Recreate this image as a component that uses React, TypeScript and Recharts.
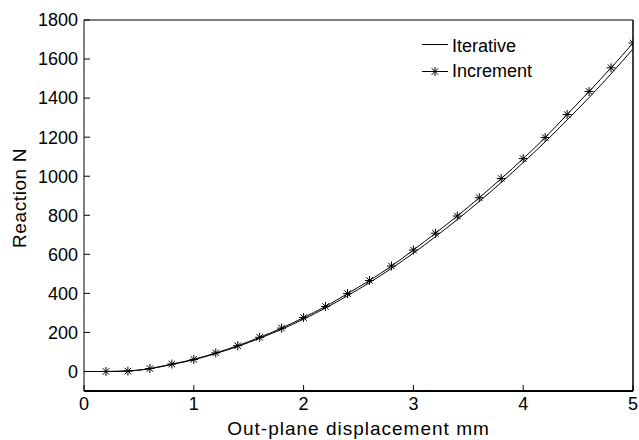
import React from "react";
import { Line, LineChart, XAxis, YAxis } from "recharts";

const FONT = "'Liberation Sans', Arial, Helvetica, sans-serif";

const X_TICKS = [0, 1, 2, 3, 4, 5];
const Y_TICKS = [0, 200, 400, 600, 800, 1000, 1200, 1400, 1600, 1800];

const ITERATIVE_X = [0, 0.2, 0.4, 0.6, 0.8, 1.0, 1.2, 1.4, 1.6, 1.8, 2.0, 2.2, 2.4, 2.6, 2.8, 3.0, 3.2, 3.4, 3.6, 3.8, 4.0, 4.2, 4.4, 4.6, 4.8, 5.0];
const ITERATIVE_N = [0, 0, 3, 14, 36, 60, 92, 128, 170, 216, 268, 325, 388, 455, 528, 606, 690, 778, 871, 968, 1070, 1176, 1288, 1403, 1524, 1652];

const INCREMENT_X = [0.2, 0.4, 0.6, 0.8, 1.0, 1.2, 1.4, 1.6, 1.8, 2.0, 2.2, 2.4, 2.6, 2.8, 3.0, 3.2, 3.4, 3.6, 3.8, 4.0, 4.2, 4.4, 4.6, 4.8, 5.0];
const INCREMENT_N = [0, 2, 15, 38, 62, 95, 132, 175, 222, 276, 333, 399, 466, 540, 622, 708, 796, 890, 988, 1090, 1198, 1316, 1434, 1555, 1682];

const iterative = ITERATIVE_X.map((d, i) => ({ d, n: ITERATIVE_N[i] }));
const increment = INCREMENT_X.map((d, i) => ({ d, n: INCREMENT_N[i] }));

// MATLAB-style '*' marker: plus + cross
function Star(props: any) {
  const { cx, cy } = props;
  if (cx == null || cy == null) return null;
  const r = 4.5;
  const q = r * 0.72;
  return (
    <g stroke="#000" strokeWidth={1}>
      <line x1={cx} y1={cy - r} x2={cx} y2={cy + r} />
      <line x1={cx - r} y1={cy} x2={cx + r} y2={cy} />
      <line x1={cx - q} y1={cy - q} x2={cx + q} y2={cy + q} />
      <line x1={cx - q} y1={cy + q} x2={cx + q} y2={cy - q} />
    </g>
  );
}

function LegendBox() {
  return (
    <svg
      width={120}
      height={56}
      style={{ position: "absolute", left: 420, top: 30, overflow: "visible" }}
    >
      <line x1={2} y1={14.5} x2={28} y2={14.5} stroke="#000" strokeWidth={1} />
      <text x={32} y={22} fontFamily={FONT} fontSize={18} fill="#000">
        Iterative
      </text>
      <line x1={2} y1={41.5} x2={28} y2={41.5} stroke="#000" strokeWidth={1} />
      <Star cx={15} cy={41.5} />
      <text x={32} y={47} fontFamily={FONT} fontSize={18} fill="#000">
        Increment
      </text>
    </svg>
  );
}

function YLabel() {
  return (
    <text
      x={0}
      y={0}
      transform="translate(26, 198) rotate(-90)"
      textAnchor="middle"
      fontFamily={FONT}
      fontSize={19}
      letterSpacing={0.6}
      fill="#000"
    >
      Reaction N
    </text>
  );
}

const tickStyle = { fontSize: 18, fill: "#000", fontFamily: FONT };

export default function App() {
  return (
    <div style={{ position: "absolute", left: 0, top: 0, width: 639, height: 440, background: "#fff" }}>
      <LineChart width={639} height={440} margin={{ top: 19, right: 5, left: 0, bottom: 0 }}>
        <XAxis
          xAxisId="b"
          type="number"
          dataKey="d"
          domain={[0, 5]}
          ticks={X_TICKS}
          allowDataOverflow
          height={49}
          tickSize={-6}
          tickMargin={12}
          tick={tickStyle}
          tickLine={{ stroke: "#000" }}
          axisLine={{ stroke: "#000", strokeWidth: 2 }}
          label={{
            value: "Out-plane displacement mm",
            position: "insideBottom",
            offset: 5,
            style: { fontSize: 19, fill: "#000", fontFamily: FONT, letterSpacing: 1 },
          }}
        />
        <XAxis
          xAxisId="t"
          orientation="top"
          type="number"
          dataKey="d"
          domain={[0, 5]}
          ticks={X_TICKS}
          allowDataOverflow
          height={1}
          tickSize={-6}
          tick={false}
          tickLine={{ stroke: "#000" }}
          axisLine={{ stroke: "#000", strokeWidth: 1 }}
        />
        <YAxis
          yAxisId="l"
          type="number"
          domain={[-100, 1800]}
          ticks={Y_TICKS}
          allowDataOverflow
          width={84}
          tickSize={-6}
          tickMargin={12}
          tick={tickStyle}
          tickLine={{ stroke: "#000" }}
          axisLine={{ stroke: "#000", strokeWidth: 1 }}
          label={<YLabel />}
        />
        <YAxis
          yAxisId="r"
          orientation="right"
          type="number"
          domain={[-100, 1800]}
          ticks={Y_TICKS}
          allowDataOverflow
          width={1}
          tickSize={-6}
          tick={false}
          tickLine={{ stroke: "#000" }}
          axisLine={{ stroke: "#000", strokeWidth: 1.5 }}
        />
        <Line
          xAxisId="b"
          yAxisId="l"
          data={iterative}
          dataKey="n"
          name="Iterative"
          type="monotone"
          stroke="#000"
          strokeWidth={1}
          dot={false}
          isAnimationActive={false}
        />
        <Line
          xAxisId="b"
          yAxisId="l"
          data={increment}
          dataKey="n"
          name="Increment"
          type="monotone"
          stroke="#000"
          strokeWidth={1}
          dot={<Star />}
          isAnimationActive={false}
        />
      </LineChart>
      <LegendBox />
    </div>
  );
}
